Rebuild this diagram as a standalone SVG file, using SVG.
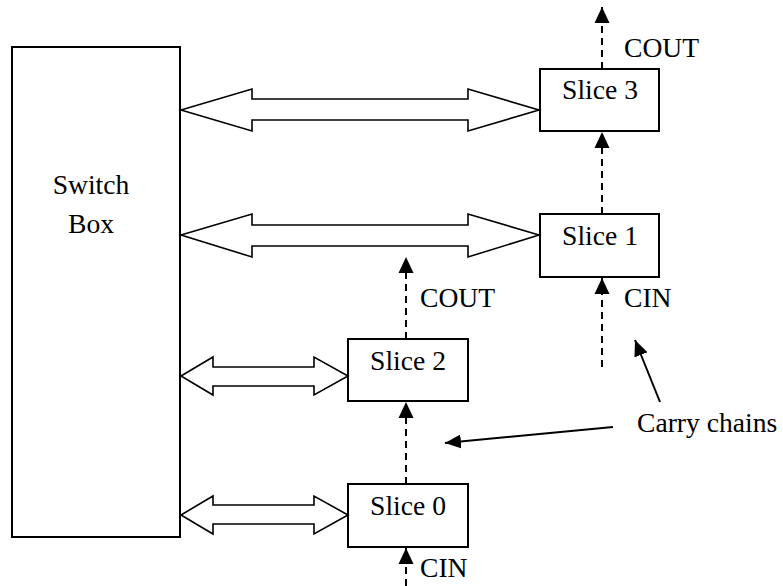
<svg xmlns="http://www.w3.org/2000/svg" width="783" height="586" viewBox="0 0 783 586">
<style>
.box{fill:#fff;stroke:#000;stroke-width:2}
.bus{fill:#fff;stroke:#000;stroke-width:1.6;stroke-linejoin:miter}
.dash{stroke:#000;stroke-width:2;stroke-dasharray:7 5;fill:none}
.solid{stroke:#000;stroke-width:2;fill:none}
text{font-family:"Liberation Serif","Times New Roman",serif;font-size:27.6px;fill:#000}
.c{text-anchor:middle}
</style>
<defs>
<marker id="ah" markerUnits="userSpaceOnUse" markerWidth="16" markerHeight="16" viewBox="0 0 16 16" refX="16" refY="8" orient="auto">
<path d="M0,0.5 L16,8 L0,15.5 Z" fill="#000"/>
</marker>
<marker id="ah2" markerUnits="userSpaceOnUse" markerWidth="16" markerHeight="14" viewBox="0 0 16 14" refX="16" refY="7" orient="auto">
<path d="M0,0 L16,7 L0,14 Z" fill="#000"/>
</marker>
</defs>
<g id="switchbox">
<rect class="box" x="12" y="47" width="168" height="490"/>
<text class="c" x="91" y="194">Switch</text>
<text class="c" x="91" y="233">Box</text>
</g>
<g id="slice3">
<rect class="box" x="540" y="69" width="119" height="62"/>
<text class="c" x="600" y="99">Slice 3</text>
</g>
<g id="slice1">
<rect class="box" x="540" y="214" width="119" height="63"/>
<text class="c" x="600" y="245">Slice 1</text>
</g>
<g id="slice2">
<rect class="box" x="348" y="339" width="120" height="62"/>
<text class="c" x="408" y="370">Slice 2</text>
</g>
<g id="slice0">
<rect class="box" x="348" y="484" width="120" height="63"/>
<text class="c" x="408" y="515">Slice 0</text>
</g>
<g id="connectors">
<polygon class="bus" points="181,110 252,89 252,99 468,99 468,89 539,110 468,131 468,120 252,120 252,131"/>
<polygon class="bus" points="181,235 252,214 252,225 468,225 468,214 539,235 468,257 468,246 252,246 252,257"/>
<polygon class="bus" points="181,376 213,357 213,367 314,367 314,357 348,376 314,395 314,386 213,386 213,395"/>
<polygon class="bus" points="181,515 213,496 213,505 314,505 314,496 348,515 314,534 314,524 213,524 213,534"/>
<line class="dash" x1="602" y1="69" x2="602" y2="7" marker-end="url(#ah)"/>
<line class="dash" x1="602" y1="214" x2="602" y2="132" marker-end="url(#ah)"/>
<line class="dash" x1="602" y1="367" x2="602" y2="278" marker-end="url(#ah)"/>
<line class="dash" x1="406" y1="339" x2="406" y2="257" marker-end="url(#ah)"/>
<line class="dash" x1="406" y1="484" x2="406" y2="402" marker-end="url(#ah)"/>
<line class="dash" x1="406" y1="586" x2="406" y2="548" marker-end="url(#ah)"/>
<line class="solid" x1="660" y1="402" x2="635" y2="340" marker-end="url(#ah2)"/>
<line class="solid" x1="613" y1="427" x2="445" y2="443" marker-end="url(#ah2)"/>
</g>
<g id="labels">
<text x="624" y="57">COUT</text>
<text x="624" y="307">CIN</text>
<text x="420" y="307">COUT</text>
<text x="420" y="577">CIN</text>
<text x="637" y="432">Carry chains</text>
</g>
</svg>
